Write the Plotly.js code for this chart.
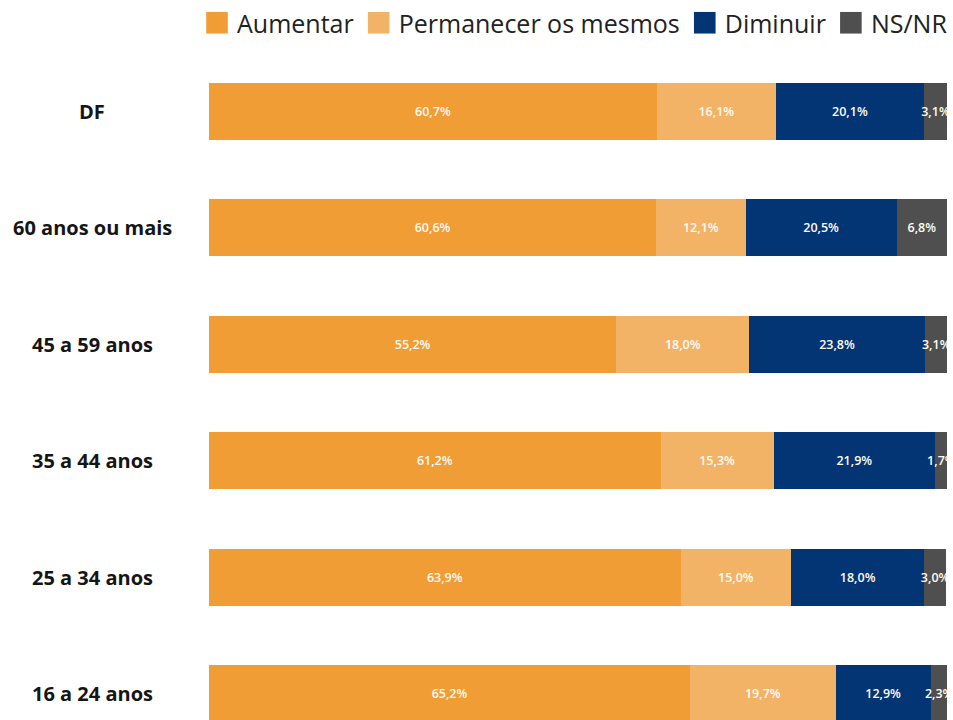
<!DOCTYPE html>
<html>
<head>
<meta charset="utf-8">
<script src="https://cdn.plot.ly/plotly-3.0.1.min.js"></script>
<style>
  html, body { margin: 0; padding: 0; background: #fff; }
  #chart { width: 953px; height: 720px; }
  /* quadradinhos da legenda maiores, como no original */
  #chart .legendpoints path { transform: translate(20px, 0px) scale(1.8); }
</style>
</head>
<body>
<div id="chart"></div>
<script>
// faixas etárias (de cima para baixo)
const categorias = ['DF', '60 anos ou mais', '45 a 59 anos', '35 a 44 anos', '25 a 34 anos', '16 a 24 anos'];

const aumentar = [60.7, 60.6, 55.2, 61.2, 63.9, 65.2];
const permanecer = [16.1, 12.1, 18.0, 15.3, 15.0, 19.7];
const diminuir = [20.1, 20.5, 23.8, 21.9, 18.0, 12.9];
const nsnr = [3.1, 6.8, 3.1, 1.7, 3.0, 2.3];

const nomes = ['Aumentar', 'Permanecer os mesmos', 'Diminuir', 'NS/NR'];
const cores = ['#F09D35', '#F2B366', '#033474', '#4F4F4F'];

const fmt = v => v.toFixed(1).replace('.', ',') + '%';

const series = [aumentar, permanecer, diminuir, nsnr];

const traces = series.map((vals, i) => ({
    type: 'bar',
    orientation: 'h',
    name: nomes[i],
    y: categorias,
    x: vals,
    text: vals.map(fmt),
    textposition: 'inside',
    insidetextanchor: 'middle',
    constraintext: 'none',
    textangle: 0,
    cliponaxis: true,
    textfont: { family: 'Open Sans, sans-serif', size: 12.5, color: '#fffaf2', weight: 600 },
    marker: { color: cores[i], line: { width: 0 } },
    hoverinfo: 'skip'
}));

// rótulos das faixas centralizados à esquerda das barras
const rotulos = categorias.map(c => ({
    xref: 'paper',
    yref: 'y',
    x: -0.1585,
    y: c,
    xanchor: 'center',
    yanchor: 'middle',
    text: c,
    showarrow: false,
    font: { family: 'Open Sans, sans-serif', size: 20, color: '#151515', weight: 700 }
}));

const layout = {
    barmode: 'stack',
    bargap: 0.51,
    width: 953,
    height: 720,
    margin: { l: 209, r: 6, t: 50, b: 0 },
    paper_bgcolor: '#ffffff',
    plot_bgcolor: '#ffffff',
    showlegend: true,
    legend: {
        orientation: 'h',
        xref: 'paper',
        yref: 'paper',
        x: -0.008,
        xanchor: 'left',
        y: 1.006,
        yanchor: 'bottom',
        traceorder: 'normal',
        font: { family: 'Open Sans, sans-serif', size: 25, color: '#222222' },
        itemclick: false
    },
    annotations: rotulos,
    xaxis: {
        range: [0, 100],
        showgrid: false,
        zeroline: false,
        showticklabels: false,
        showline: false,
        fixedrange: true
    },
    yaxis: {
        type: 'category',
        categoryorder: 'array',
        categoryarray: categorias,
        range: [5.227, -0.524],
        showgrid: false,
        zeroline: false,
        showline: false,
        showticklabels: false,
        ticks: '',
        fixedrange: true
    }
};

Plotly.newPlot('chart', traces, layout, { displayModeBar: false, staticPlot: true });
</script>
</body>
</html>
